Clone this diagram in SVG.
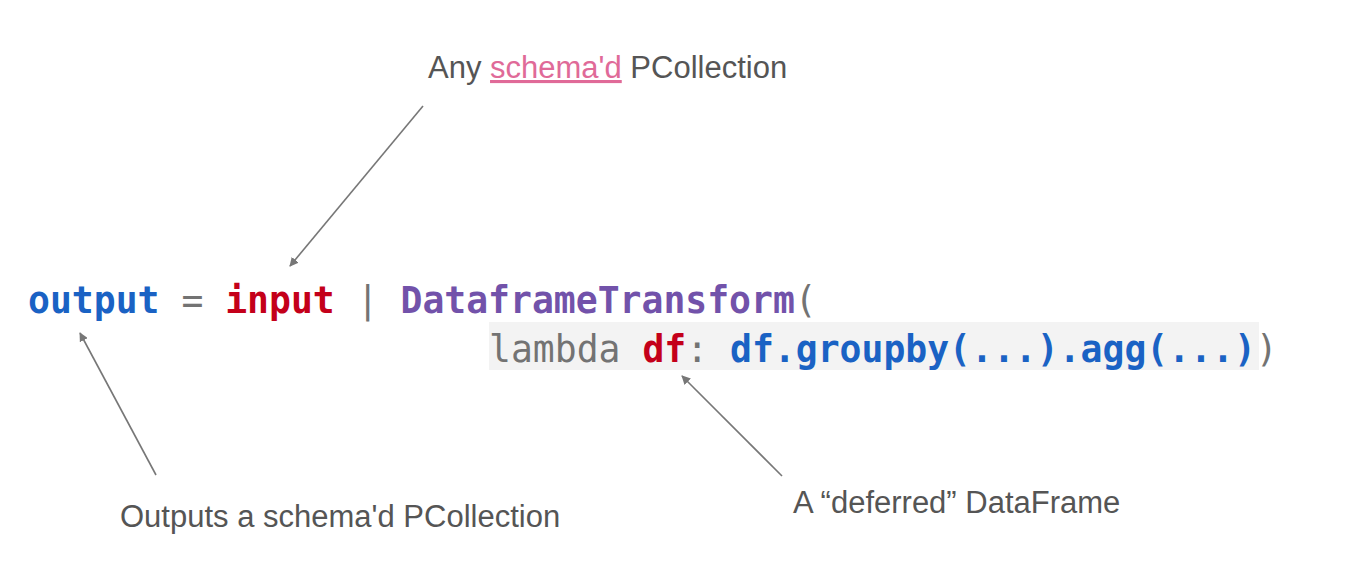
<svg xmlns="http://www.w3.org/2000/svg" width="1355" height="570" viewBox="0 0 1355 570">
<style>
.code{font-family:"DejaVu Sans Mono","Liberation Mono",monospace;font-size:36.4px}
.b{font-weight:bold}
.blue{fill:#1a62c4}
.red{fill:#c4001a}
.purple{fill:#7252aa}
.gray{fill:#737373}
.lbl{font-family:"Liberation Sans",Arial,sans-serif;font-size:31px;fill:#555}
.pink{fill:#e06a98}
.arr{stroke:#777;stroke-width:1.6;fill:none;marker-end:url(#ah)}
</style>
<defs>
<marker id="ah" viewBox="0 0 10 10" refX="9" refY="5" markerWidth="9" markerHeight="9" markerUnits="userSpaceOnUse" orient="auto">
<path d="M0,0 L10,5 L0,10 z" fill="#777"/>
</marker>
</defs>
<rect width="1355" height="570" fill="#fff"/>
<g id="code">
<rect x="489" y="322" width="770" height="48" fill="#f3f3f3"/>
<text class="code" x="28" y="313"><tspan class="b blue">output</tspan><tspan class="gray"> = </tspan><tspan class="b red">input</tspan><tspan class="gray"> | </tspan><tspan class="b purple">DataframeTransform</tspan><tspan class="gray">(</tspan></text>
<text class="code" x="489" y="362"><tspan class="gray">lambda </tspan><tspan class="b red">df</tspan><tspan class="gray">: </tspan><tspan class="b blue">df.groupby(...).agg(...)</tspan><tspan class="gray">)</tspan></text>
</g>
<g id="label-any">
<text class="lbl" x="428" y="78">Any <tspan class="pink" text-decoration="underline">schema'd</tspan> PCollection</text>
</g>
<g id="label-outputs">
<text class="lbl" x="120" y="527">Outputs a schema'd PCollection</text>
</g>
<g id="label-deferred">
<text class="lbl" x="793" y="513">A “deferred” DataFrame</text>
</g>
<g id="connectors">
<line class="arr" x1="423" y1="106" x2="290" y2="266"/>
<line class="arr" x1="156" y1="475" x2="80" y2="333"/>
<line class="arr" x1="782" y1="476" x2="682" y2="376"/>
</g>
</svg>
